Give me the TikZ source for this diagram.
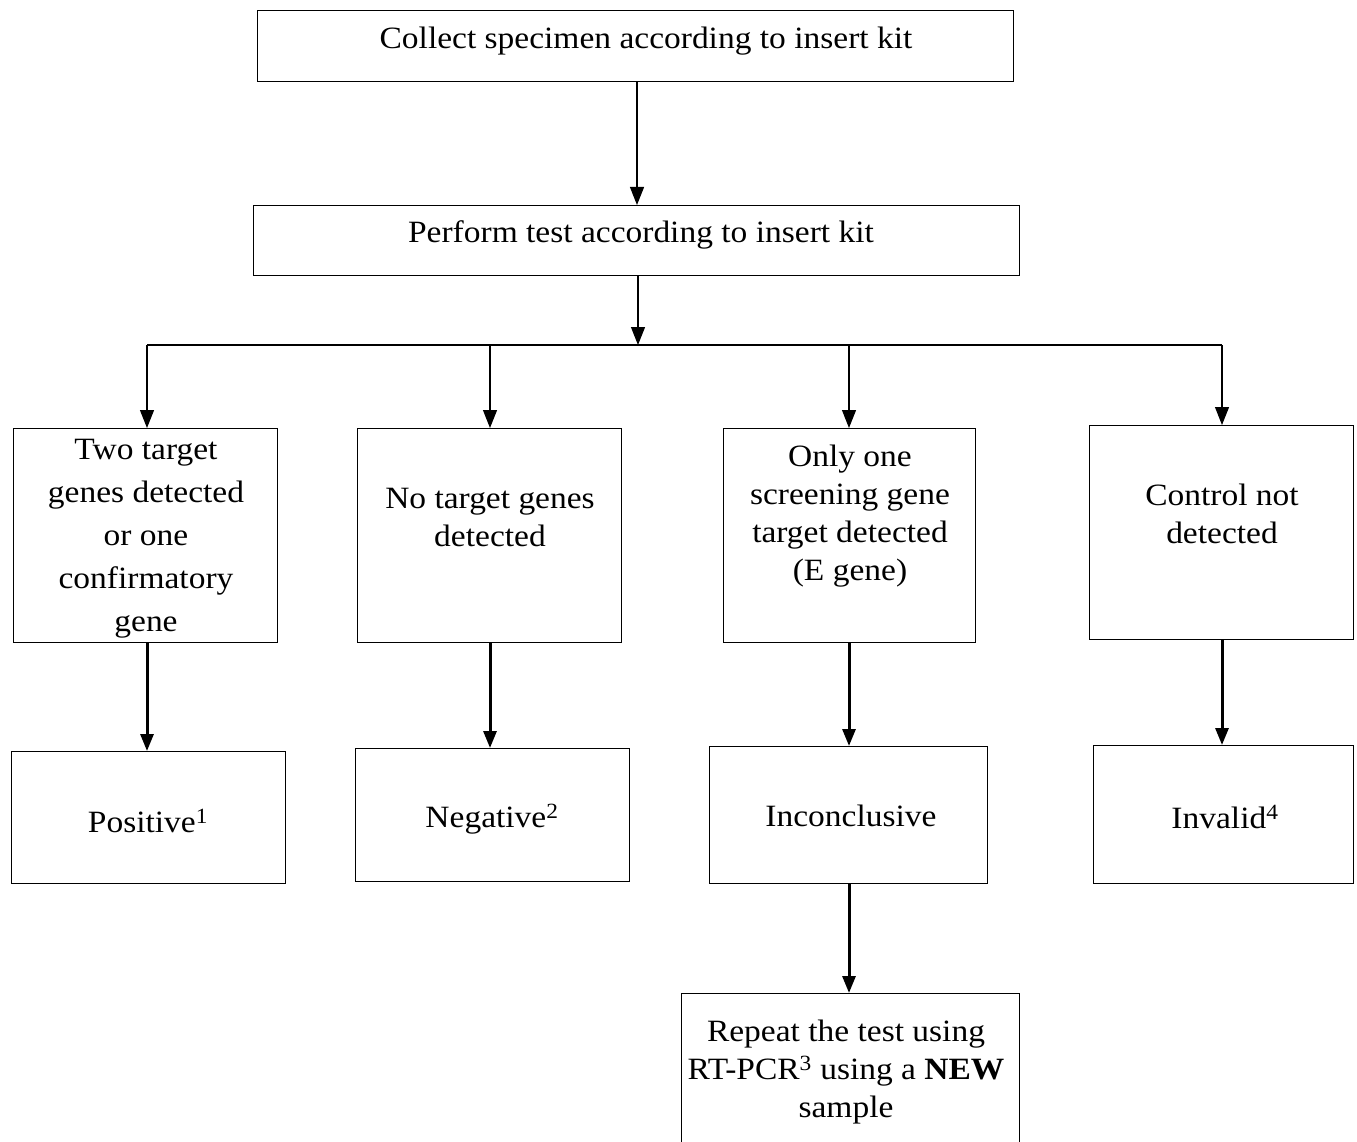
\documentclass[tikz,border=0pt]{standalone}
\usepackage{fontspec}
\setmainfont{Liberation Serif}[FakeStretch=1.08]
\usetikzlibrary{arrows.meta}
\tikzset{
  box/.style={draw=black, line width=1.3pt, inner sep=0pt, anchor=north west},
  txt/.style={align=center, inner sep=0pt, font=\fontsize{31}{38}\selectfont},
  txtA/.style={align=center, inner sep=0pt, font=\fontsize{31}{43}\selectfont},
  arr/.style={line width=1.1pt, -{Triangle[length=18pt,width=14pt]}},
  boldarr/.style={line width=3pt, -{Triangle[length=17pt,width=13pt]}},
  link/.style={line width=1.1pt}
}
\begin{document}
\begin{tikzpicture}[x=1pt,y=-1pt]
\useasboundingbox (0,0) rectangle (1357,1142);
% top boxes
\node[box, minimum width=756pt, minimum height=71pt] (b1) at (257,10) {};
\node[txt] (t1) at (646,41) {Collect specimen according to insert kit};
\node[box, minimum width=766pt, minimum height=70pt] (b2) at (253,205) {};
\node[txt] (t2) at (641,235) {Perform test according to insert kit};
% decision boxes
\node[box, minimum width=264pt, minimum height=214pt] (A) at (13,428) {};
\node[txtA] (tA) at (146,539) {Two target\\genes detected\\or one\\confirmatory\\gene};
\node[box, minimum width=264pt, minimum height=214pt] (B) at (357,428) {};
\node[txt] (tB) at (490,517) {No target genes\\detected};
\node[box, minimum width=252pt, minimum height=214pt] (C) at (723,428) {};
\node[txt] (tC) at (850,516) {Only one\\screening gene\\target detected\\(E gene)};
\node[box, minimum width=264pt, minimum height=214pt] (D) at (1089,425) {};
\node[txt] (tD) at (1222,514) {Control not\\detected};
% result boxes
\node[box, minimum width=274pt, minimum height=132pt] (RA) at (11,751) {};
\node[txt] (tRA) at (148,821) {Positive\textsuperscript{1}};
\node[box, minimum width=274pt, minimum height=133pt] (RB) at (355,748) {};
\node[txt] (tRB) at (492,819) {Negative\textsuperscript{2}};
\node[box, minimum width=278pt, minimum height=137pt] (RC) at (709,746) {};
\node[txt] (tRC) at (851,816) {Inconclusive};
\node[box, minimum width=260pt, minimum height=138pt] (RD) at (1093,745) {};
\node[txt] (tRD) at (1225,817) {Invalid\textsuperscript{4}};
% repeat box (runs past the bottom edge)
\node[box, minimum width=338pt, minimum height=170pt] (R) at (681,993) {};
\node[txt] (tR) at (846,1072) {Repeat the test using\\RT-PCR\textsuperscript{3} using a \textbf{NEW}\\sample};
% connectors
\coordinate (j) at (638,345);
\coordinate (jl) at (147,345);
\coordinate (jr) at (1222,345);
\coordinate (xB) at (490,345);
\coordinate (xC) at (849,345);
\coordinate (x1) at (637,0);
\draw[arr] (b1.south -| x1) -- (b2.north -| x1);
\draw[arr] (b2.south -| j) -- (j);
\draw[link] (jl) -- (jr);
\draw[arr] (jl) -- (A.north -| jl);
\draw[arr] (xB) -- (B.north -| xB);
\draw[arr] (xC) -- (C.north -| xC);
\draw[arr] (jr) -- (D.north -| jr);
\draw[boldarr] (A.south -| jl) -- (RA.north -| jl);
\draw[boldarr] (B.south -| xB) -- (RB.north -| xB);
\draw[boldarr] (C.south -| xC) -- (RC.north -| xC);
\draw[boldarr] (D.south -| jr) -- (RD.north -| jr);
\draw[boldarr] (RC.south -| xC) -- (R.north -| xC);
\end{tikzpicture}
\end{document}
